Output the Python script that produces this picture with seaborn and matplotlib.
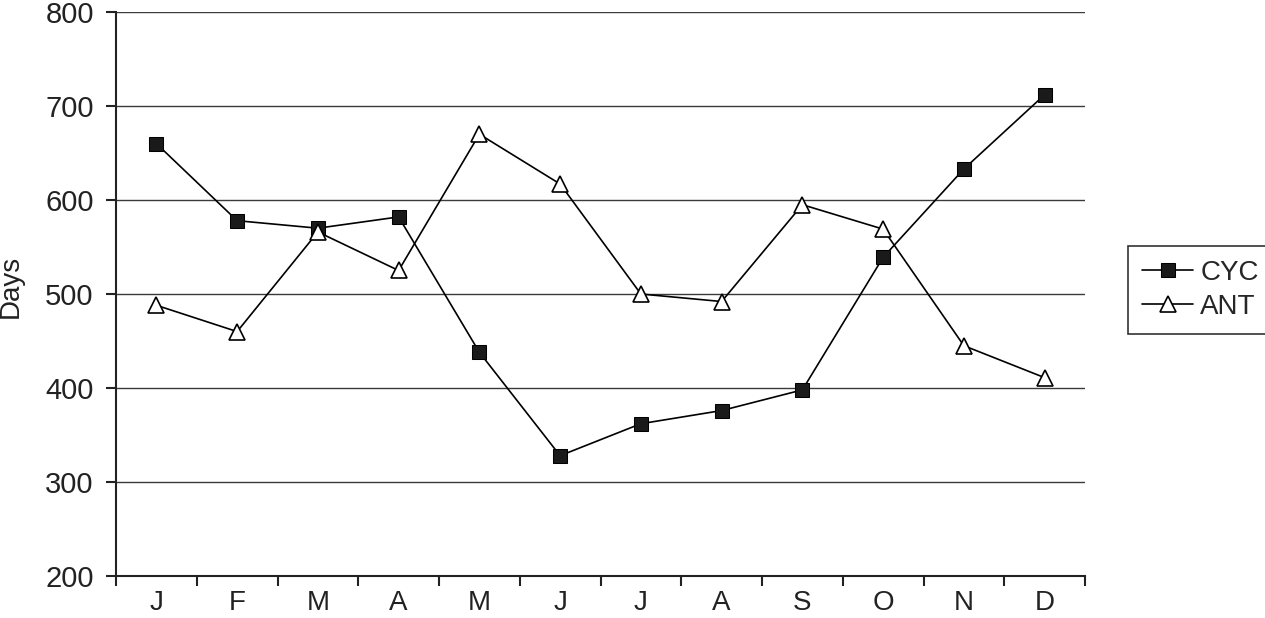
import numpy as np
import pandas as pd
import matplotlib
matplotlib.use('Agg')
import matplotlib.pyplot as plt
import seaborn as sns

months = ['J', 'F', 'M', 'A', 'M', 'J', 'J', 'A', 'S', 'O', 'N', 'D']
cyc = [660, 578, 570, 582, 438, 328, 362, 376, 398, 539, 633, 712]
ant = [488, 460, 566, 525, 670, 617, 500, 492, 595, 569, 445, 411]

sns.set_style('white')
plt.rcParams['font.family'] = ['Liberation Sans', 'DejaVu Sans']

df = pd.DataFrame({'pos': np.arange(len(months)), 'CYC': cyc, 'ANT': ant})

fig = plt.figure(figsize=(12.65, 6.18), dpi=100)
ax = fig.add_axes([116 / 1265, 1 - 576 / 618, (1085 - 116) / 1265, (576 - 12) / 618])

sns.lineplot(data=df, x='pos', y='CYC', ax=ax, color='black', lw=1.2,
             marker='s', markersize=10, markerfacecolor='#1a1a1a',
             markeredgecolor='black', label='CYC', zorder=3)
sns.lineplot(data=df, x='pos', y='ANT', ax=ax, color='black', lw=1.2,
             marker='^', markersize=11, markerfacecolor='white',
             markeredgecolor='black', markeredgewidth=1.2, label='ANT', zorder=3)

ax.set_xlim(-0.5, len(months) - 0.5)
ax.set_ylim(200, 800)
ax.set_yticks(range(200, 801, 100))
ax.yaxis.grid(True, color='#3a3a3a', lw=1)
ax.set_axisbelow(True)

# ticks on category boundaries, labels in the middle
ax.set_xticks(np.arange(-0.5, len(months), 1.0))
ax.set_xticklabels([])
ax.set_xticks(np.arange(len(months)), minor=True)
ax.set_xticklabels(months, minor=True)
ax.tick_params(axis='x', which='major', direction='out', length=7, width=1.5, color='#222222', bottom=True)
ax.tick_params(axis='x', which='minor', length=0, pad=10, labelsize=20, colors='#222222')
ax.tick_params(axis='y', direction='out', length=7, width=1.5, color='#222222', left=True,
               labelsize=21, labelcolor='#222222', pad=9)

for s in ['top', 'right']:
    ax.spines[s].set_visible(False)
for s in ['left', 'bottom']:
    ax.spines[s].set_color('#222222')
    ax.spines[s].set_linewidth(1.5)

ax.set_xlabel('')
ax.set_ylabel('Days', fontsize=20, color='#222222')
ax.yaxis.set_label_coords(24 / 1265, 1 - 286 / 618, transform=fig.transFigure)

leg = ax.legend(loc='center left', bbox_to_anchor=(1128 / 1265, 1 - 290 / 618),
                bbox_transform=fig.transFigure, fontsize=20, frameon=True,
                fancybox=False, edgecolor='black', handlelength=1.85,
                handletextpad=0.25, borderpad=0.5, labelspacing=0.3, borderaxespad=0)
leg.get_frame().set_linewidth(1.2)

plt.savefig('out.png', dpi=100)
